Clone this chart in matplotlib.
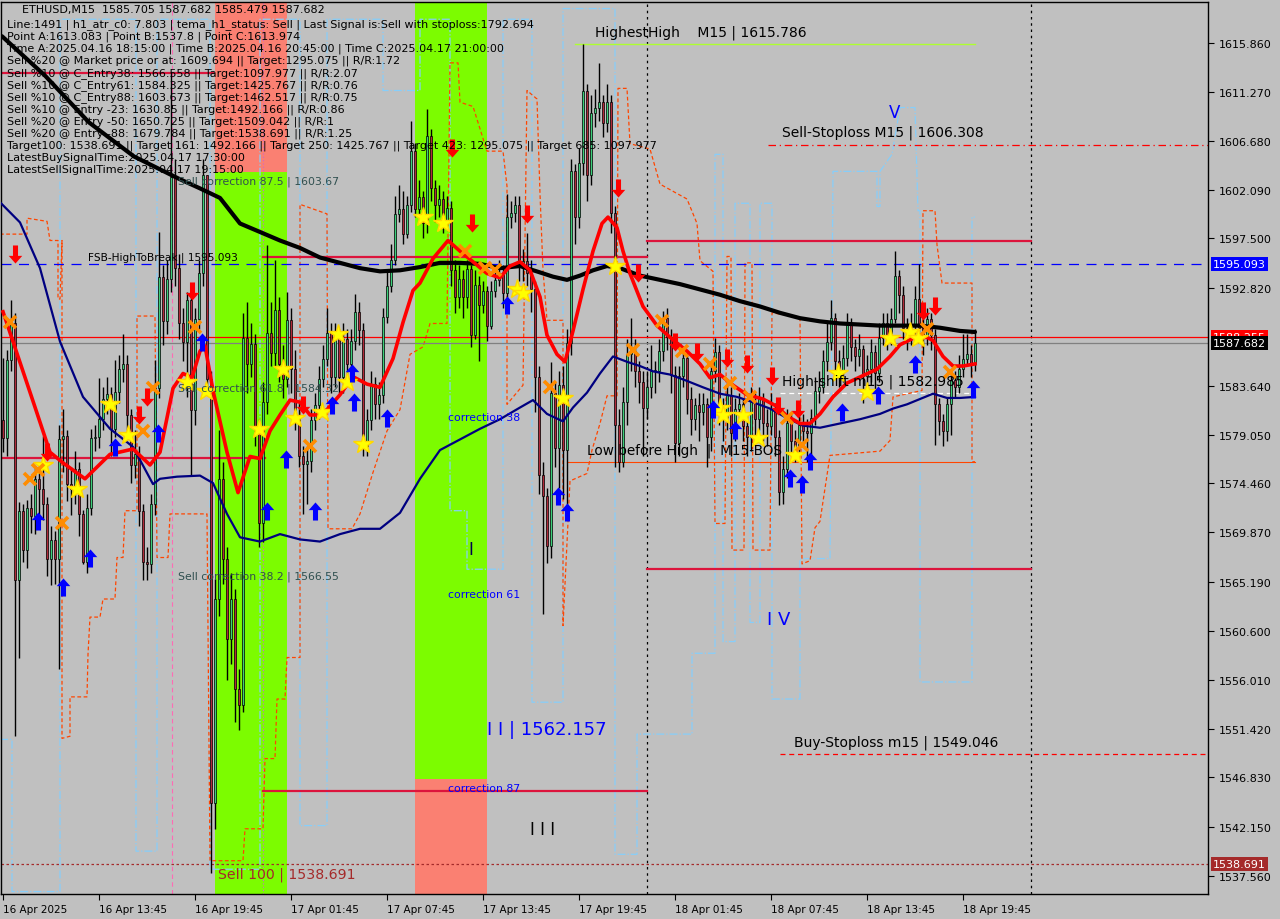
import matplotlib
matplotlib.use('Agg')
import matplotlib.pyplot as plt
from matplotlib.path import Path
from matplotlib.patches import Rectangle
import numpy as np

# ETHUSD M15, one candle per 15 minutes, bar 0 = 16 Apr 07:45
first_open = 1580.4
closes = [
    1578.7, 1586.1, 1589.5, 1565.4, 1571.9, 1568.2, 1572.2, 1571.4, 1574.9, 1573.9,
    1572.5, 1567.4, 1569.1, 1567.4, 1578.6, 1578.9, 1574.4, 1573.9, 1575.8, 1571.6,
    1567.1, 1572.2, 1578.7, 1578.8, 1580.5, 1582.4, 1582.9, 1579.6, 1583.1, 1585.2,
    1585.7, 1580.9, 1576.2, 1577.2, 1571.9, 1567.1, 1566.9, 1572.5, 1583.4, 1593.9,
    1589.7, 1593.7, 1603.3, 1594.7, 1589.5, 1587.8, 1591.7, 1581.4, 1589.9, 1594.2,
    1603.5, 1584.3, 1544.4, 1563.6, 1574.9, 1567.4, 1559.8, 1563.6, 1555.1, 1553.6,
    1588.1, 1585.7, 1587.6, 1579.6, 1570.7, 1582.1, 1588.6, 1586.7, 1590.8, 1585.7,
    1584.3, 1589.8, 1585.2, 1580.9, 1577.0, 1576.3, 1576.6, 1580.4, 1581.8, 1584.3,
    1586.2, 1588.6, 1584.5, 1588.0, 1584.5, 1588.0, 1585.7, 1587.9, 1590.6, 1588.9,
    1578.0, 1580.4, 1583.8, 1581.9, 1582.8, 1590.1, 1593.0, 1595.5, 1599.8, 1600.3,
    1597.9, 1600.6, 1605.7, 1600.3, 1601.4, 1598.9, 1607.1, 1602.2, 1600.6, 1601.2,
    1599.2, 1600.4, 1594.5, 1592.0, 1593.7, 1592.0, 1594.6, 1588.4, 1593.1, 1591.2,
    1592.6, 1589.3, 1592.6, 1593.6, 1594.2, 1592.4, 1599.5, 1599.9, 1600.6, 1594.9,
    1595.4, 1594.2, 1592.7, 1584.5, 1575.3, 1573.3, 1568.6, 1583.0, 1577.8, 1583.7,
    1577.6, 1587.7, 1603.8, 1599.5, 1604.6, 1611.4, 1603.5, 1609.3, 1609.8, 1610.3,
    1608.3, 1610.3, 1599.9, 1580.0, 1576.5, 1582.1, 1586.6, 1586.9, 1585.0, 1584.0,
    1581.6, 1583.5, 1585.0, 1585.0, 1586.9, 1590.0, 1588.2, 1584.7, 1578.3, 1584.6,
    1586.3, 1582.4, 1580.5, 1581.8, 1581.2, 1581.9, 1578.8, 1585.0, 1586.8, 1581.7,
    1580.5, 1582.8, 1579.2, 1581.5, 1581.9, 1579.9, 1578.8, 1582.1, 1580.5, 1582.4,
    1580.1, 1579.9, 1581.5, 1578.8, 1573.7, 1575.8, 1580.1, 1578.5, 1577.9, 1580.0,
    1579.4, 1579.2, 1580.6, 1583.2, 1583.5, 1586.0, 1587.8, 1590.0, 1586.0, 1585.0,
    1586.3, 1589.4, 1587.3, 1586.4, 1587.1, 1584.6, 1585.2, 1586.8, 1584.8, 1588.1,
    1589.5, 1588.4, 1589.9, 1594.0, 1592.2, 1589.1, 1588.4, 1589.4, 1591.8, 1589.1,
    1588.2, 1589.9, 1588.4, 1581.9, 1580.3, 1579.4, 1581.9, 1584.2, 1583.5, 1585.2,
    1586.2, 1586.6, 1585.7, 1587.682,
]
highs = [
    1586.3, 1587.0, 1591.7, 1590.5, 1572.7, 1572.5, 1572.9, 1573.5, 1576.1, 1576.3,
    1578.9, 1573.2, 1570.5, 1570.0, 1580.0, 1581.5, 1579.5, 1576.0, 1577.5, 1576.5,
    1572.0, 1573.5, 1579.6, 1580.0, 1584.4, 1583.5, 1584.5, 1583.5, 1586.1, 1586.5,
    1588.5, 1586.5, 1581.5, 1579.5, 1578.0, 1572.5, 1568.5, 1573.5, 1586.1, 1598.1,
    1595.0, 1595.5, 1613.1, 1605.0, 1596.0, 1591.0, 1592.5, 1592.5, 1591.0, 1595.5,
    1605.0, 1603.2, 1585.0, 1565.5, 1579.5, 1576.5, 1568.5, 1566.0, 1564.5, 1557.0,
    1590.5, 1591.5, 1589.5, 1588.5, 1580.5, 1584.0, 1596.9, 1591.5, 1595.5, 1592.0,
    1587.5, 1592.5, 1591.0, 1587.0, 1582.0, 1578.0, 1578.0, 1581.5, 1583.0, 1585.5,
    1587.5, 1591.0, 1589.5, 1589.5, 1589.0, 1589.5, 1589.0, 1589.0, 1592.3, 1591.5,
    1589.5, 1581.5, 1585.0, 1584.5, 1584.0, 1591.0, 1594.5, 1597.0, 1601.5, 1602.5,
    1602.0, 1601.5, 1608.5, 1606.5, 1603.0, 1602.0, 1609.7, 1607.8, 1603.0, 1602.5,
    1602.0, 1601.5, 1601.0, 1595.5, 1595.0, 1594.5, 1595.5, 1595.0, 1594.5, 1594.0,
    1593.5, 1593.0, 1593.5, 1595.0, 1595.5, 1595.0, 1601.7, 1601.0, 1601.5, 1601.5,
    1596.5, 1598.0, 1595.5, 1593.5, 1585.5, 1576.5, 1574.0, 1585.9, 1584.0, 1585.0,
    1585.5, 1589.0, 1605.0, 1604.5, 1606.0, 1615.8, 1612.0, 1611.0, 1611.5, 1614.0,
    1611.0, 1612.0, 1611.0, 1600.5, 1581.5, 1583.5, 1588.0, 1590.0, 1588.0, 1586.0,
    1585.0, 1585.0, 1587.5, 1586.0, 1588.0, 1590.7, 1591.0, 1589.0, 1585.5, 1585.5,
    1587.0, 1587.0, 1583.5, 1582.5, 1583.0, 1583.0, 1582.5, 1586.0, 1588.1, 1587.5,
    1582.5, 1584.0, 1583.5, 1582.5, 1583.0, 1582.5, 1581.0, 1583.5, 1583.0, 1583.5,
    1583.0, 1581.5, 1583.0, 1582.0, 1579.5, 1577.0, 1581.5, 1581.0, 1579.5, 1581.0,
    1581.0, 1580.5, 1581.5, 1584.5, 1585.0, 1587.0, 1589.5, 1591.7, 1590.5, 1587.0,
    1587.5, 1590.5, 1590.0, 1588.0, 1588.5, 1587.5, 1586.5, 1588.0, 1587.5, 1589.5,
    1590.5, 1590.5, 1591.0, 1596.3, 1594.5, 1593.0, 1590.0, 1590.5, 1593.0, 1595.1,
    1590.0, 1591.0, 1590.5, 1589.0, 1582.5, 1581.0, 1582.5, 1585.0, 1585.0, 1586.5,
    1588.5, 1588.5, 1587.5, 1589.0,
]
lows = [
    1577.4, 1577.0, 1585.0, 1550.7, 1558.1, 1567.1, 1566.5, 1569.8, 1569.7, 1571.0,
    1571.0, 1565.8, 1564.9, 1565.0, 1557.0, 1575.5, 1572.8, 1571.5, 1572.5, 1569.5,
    1566.9, 1566.0, 1571.5, 1577.5, 1577.8, 1579.5, 1581.0, 1577.0, 1578.8, 1582.0,
    1584.0, 1579.5, 1574.5, 1575.0, 1570.5, 1565.4, 1565.4, 1566.0, 1571.5, 1582.5,
    1587.5, 1588.5, 1592.5, 1593.0, 1588.0, 1586.0, 1582.6, 1575.3, 1580.0, 1589.0,
    1593.0, 1583.0, 1537.8, 1542.0, 1562.0, 1565.0, 1556.0, 1557.5, 1552.0, 1551.3,
    1553.0, 1583.0, 1584.5, 1578.0, 1568.5, 1569.0, 1581.0, 1585.5, 1585.5, 1584.0,
    1582.5, 1583.5, 1583.0, 1579.5, 1576.0, 1571.6, 1572.5, 1575.5, 1579.5, 1580.5,
    1583.5, 1585.5, 1583.0, 1583.5, 1583.0, 1583.0, 1584.5, 1584.0, 1587.0, 1587.5,
    1577.0, 1577.0, 1579.5, 1580.5, 1580.5, 1582.0, 1589.5, 1592.5, 1595.0, 1599.0,
    1597.0, 1597.5, 1600.0, 1599.5, 1599.5, 1597.5, 1598.0, 1601.0, 1599.0, 1599.5,
    1598.0, 1598.5, 1593.0, 1590.5, 1591.0, 1590.0, 1591.0, 1587.3, 1588.0, 1586.0,
    1590.5, 1587.9, 1589.0, 1592.0, 1593.0, 1591.0, 1592.0, 1598.5, 1599.0, 1593.5,
    1593.5, 1593.0, 1590.6, 1581.2, 1573.5, 1562.2, 1567.0, 1567.5, 1576.0, 1574.0,
    1573.0, 1571.1, 1586.5, 1597.0, 1598.5, 1603.5, 1601.0, 1602.5, 1608.0, 1608.5,
    1607.0, 1607.5, 1598.0, 1576.0, 1575.5, 1576.0, 1580.0, 1585.0, 1583.5, 1582.0,
    1577.0, 1580.5, 1582.5, 1583.0, 1584.0, 1586.0, 1587.0, 1583.0, 1576.5, 1577.0,
    1583.5, 1581.0, 1579.0, 1579.5, 1578.5, 1580.0, 1576.0, 1577.5, 1584.0, 1580.0,
    1578.5, 1579.5, 1577.0, 1578.5, 1580.5, 1578.5, 1577.0, 1577.5, 1579.0, 1579.5,
    1578.5, 1578.0, 1579.0, 1577.0, 1572.4, 1572.5, 1575.0, 1577.0, 1576.5, 1577.0,
    1578.0, 1576.5, 1575.8, 1580.0, 1582.0, 1583.0, 1585.0, 1587.0, 1585.0, 1583.5,
    1584.0, 1585.5, 1586.0, 1585.0, 1585.5, 1582.0, 1583.5, 1584.0, 1583.0, 1584.0,
    1587.5, 1587.0, 1587.5, 1589.5, 1590.5, 1588.0, 1587.0, 1587.5, 1588.5, 1588.0,
    1586.5, 1587.5, 1587.0, 1578.1, 1579.0, 1578.0, 1578.5, 1579.0, 1582.5, 1583.0,
    1584.5, 1585.5, 1584.5, 1585.0,
]

time_labels = ['16 Apr 2025', '16 Apr 13:45', '16 Apr 19:45', '17 Apr 01:45', '17 Apr 07:45',
               '17 Apr 13:45', '17 Apr 19:45', '18 Apr 01:45', '18 Apr 07:45', '18 Apr 13:45',
               '18 Apr 19:45']
time_label_bars = [0, 24, 48, 72, 96, 120, 144, 168, 192, 216, 240]
price_ticks = [1615.860, 1611.270, 1606.680, 1602.090, 1597.500, 1592.820, 1583.640, 1579.050,
               1574.460, 1569.870, 1565.190, 1560.600, 1556.010, 1551.420, 1546.830, 1542.150,
               1537.560]

# moving averages (bar, price)
slow_t = [-0.25, 10.5, 21.5, 32.75, 44, 49.25, 54.25, 59.25, 64.25, 69.25, 74.25, 79.25, 84.25,
          89.25, 94.25, 99.25, 104.25, 109.25, 114.25, 119.25, 124.25, 129.25, 134.25, 137.5, 141,
          144.25, 147.5, 151, 154.25, 159.25, 164.25, 169.25, 174.25, 179.25, 184.25, 189.25,
          194.25, 199.25, 204.25, 209.25, 214.25, 219.25, 224.25, 229.25, 234.25, 239.25, 243]
slow_p = [1616.5, 1612.8, 1608.4, 1605.2, 1603.1, 1602.2, 1601.3, 1598.9, 1598.1, 1597.3, 1596.6,
          1595.7, 1595.2, 1594.7, 1594.4, 1594.5, 1594.8, 1595.2, 1595.2, 1595.1, 1594.7, 1594.9,
          1594.3, 1593.9, 1593.6, 1594.0, 1594.5, 1594.9, 1594.7, 1594.0, 1593.6, 1593.2, 1592.7,
          1592.2, 1591.6, 1591.1, 1590.5, 1590.0, 1589.7, 1589.5, 1589.4, 1589.3, 1589.3, 1589.3,
          1589.1, 1588.8, 1588.7]
mid_t = [-0.75, 4.25, 9.25, 14.25, 20, 26.75, 32.5, 37.5, 39.25, 43.5, 49.25, 52.5, 56, 59.25,
         64.25, 69.25, 74.25, 79.25, 84.25, 89.25, 94.25, 99.25, 104.25, 109.25, 114.25, 119.25,
         124.25, 129.25, 132.5, 136, 140, 142.5, 146, 149.25, 152.5, 156, 159.25, 162.5, 166.75,
         171, 175, 179.25, 183.5, 187.5, 191.75, 196, 200, 204.25, 209.25, 214.25, 219.25, 222.5,
         226, 229.25, 232.5, 236, 239.25, 243]
mid_p = [1600.9, 1599.0, 1594.7, 1587.8, 1582.6, 1579.6, 1577.9, 1574.4, 1574.9, 1575.1, 1575.2,
         1574.5, 1571.6, 1569.4, 1569.0, 1569.7, 1569.2, 1569.0, 1569.7, 1570.2, 1570.2, 1571.7,
         1574.9, 1577.6, 1578.6, 1579.6, 1580.5, 1581.6, 1582.3, 1581.0, 1580.3, 1581.6, 1583.0,
         1584.8, 1586.4, 1585.9, 1585.5, 1585.0, 1584.7, 1584.1, 1583.5, 1582.9, 1582.6, 1582.1,
         1581.5, 1580.6, 1579.9, 1579.7, 1580.1, 1580.5, 1581.0, 1581.5, 1581.9, 1582.4, 1582.9,
         1582.5, 1582.5, 1582.6]
fast_t = [0, 7.5, 11.75, 15, 20.5, 26.75, 32.5, 36.75, 39.25, 42.5, 45, 47.25, 49.25, 50.5, 52.5,
          56, 58.75, 61.75, 64.25, 66.75, 69.25, 71.75, 74.25, 76.75, 78.5, 81, 84.25, 87.5, 91,
          94.25, 97.5, 100, 102.5, 104.25, 107.5, 111.25, 114.25, 117.5, 121, 124.25, 126.75,
          129.25, 131.75, 134.25, 136, 138.5, 140.5, 142.5, 145, 147.5, 149.75, 151.25, 153.5, 155,
          156.75, 160, 163.5, 166.75, 171, 174.25, 176.75, 179.25, 182.5, 186, 190, 193.5, 196,
          199.25, 201.75, 204.25, 207.5, 211, 215, 218.5, 221.75, 224.25, 227.5, 231, 232.5, 235,
          237.5, 240, 243]
fast_p = [1590.6, 1582.2, 1577.4, 1576.4, 1574.9, 1577.2, 1577.7, 1576.2, 1577.4, 1583.4, 1584.8,
          1584.4, 1586.9, 1587.4, 1583.2, 1577.4, 1573.6, 1577.0, 1576.8, 1579.4, 1580.9, 1582.3,
          1582.1, 1580.9, 1580.9, 1581.4, 1582.8, 1584.5, 1583.8, 1583.5, 1586.2, 1589.6, 1592.6,
          1593.3, 1595.6, 1597.3, 1596.3, 1595.3, 1594.2, 1593.8, 1594.9, 1595.3, 1594.5, 1592.0,
          1588.4, 1586.6, 1585.9, 1588.8, 1592.7, 1596.3, 1598.9, 1599.5, 1598.5, 1596.3, 1594.2,
          1591.1, 1589.3, 1588.2, 1586.9, 1585.7, 1584.4, 1584.7, 1583.7, 1582.8, 1582.4, 1581.7,
          1580.8, 1580.1, 1580.1, 1581.0, 1582.6, 1583.9, 1584.6, 1585.2, 1586.4, 1587.5, 1588.1,
          1588.2, 1587.9, 1586.4, 1585.5, 1585.5, 1585.7]

# orange trailing step line
orange_t = [-0.75, 6, 6, 11, 11.75, 13.75, 13.75, 14.25, 14.75, 14.75, 16.75, 16.75, 21, 21.25,
            21.75, 24.25, 25, 28, 28.5, 30, 30.5, 33.5, 33.5, 38, 38.5, 41.25, 41.75, 51, 51.75, 60,
            60.5, 65, 65.5, 68, 68.5, 70.5, 71, 74.25, 74.25, 81, 81.25, 87.25, 89.25, 92.5, 96,
            99.25, 101.75, 105, 106.75, 111, 111.75, 113.75, 114.25, 117.5, 119.25, 121, 125, 126,
            126, 130, 131, 133.5, 134.25, 135, 136, 140, 140, 141.75, 146, 147.25, 149.25, 151,
            153.5, 153.75, 156, 156.75, 161.75, 164.25, 171, 173.5, 174.25, 177.5, 178, 180.5, 181,
            182, 182.25, 185.25, 185.5, 187.25, 187.5, 191.75, 192.25, 199.25, 199.75, 201.75, 203,
            204.25, 206.75, 219.25, 221.75, 222.5, 229.75, 230, 233, 233.5, 234.75, 242.25, 242.25,
            243]
orange_p = [1597.9, 1597.9, 1599.4, 1599.1, 1597.3, 1597.3, 1591.8, 1591.8, 1597.3, 1550.5,
            1550.7, 1554.4, 1554.4, 1558.4, 1561.9, 1561.9, 1563.6, 1563.6, 1567.5, 1567.5, 1571.9,
            1571.9, 1590.2, 1590.2, 1567.5, 1567.5, 1571.6, 1571.6, 1539.0, 1539.0, 1542.0, 1542.0,
            1548.6, 1548.6, 1554.2, 1554.2, 1558.1, 1558.1, 1600.7, 1599.8, 1570.2, 1570.2, 1571.6,
            1575.5, 1579.4, 1581.4, 1586.6, 1587.3, 1589.5, 1589.5, 1614.0, 1614.0, 1610.3, 1609.9,
            1607.8, 1605.7, 1605.7, 1602.4, 1581.9, 1583.7, 1611.4, 1610.6, 1601.7, 1594.5, 1589.8,
            1589.8, 1561.1, 1574.7, 1575.4, 1577.6, 1580.1, 1582.7, 1582.7, 1611.6, 1611.6, 1606.4,
            1605.9, 1602.6, 1601.2, 1598.9, 1595.4, 1594.4, 1570.7, 1570.7, 1595.8, 1595.8, 1568.2,
            1568.2, 1595.2, 1595.2, 1568.2, 1568.2, 1590.5, 1590.1, 1566.9, 1567.2, 1570.3, 1570.9,
            1577.1, 1577.5, 1578.5, 1582.6, 1583.2, 1600.1, 1600.1, 1596.9, 1593.3, 1593.3, 1576.5,
            1576.5]

# light blue step line
sky_t = [-0.75, 2.25, 2.25, 14.25, 14.25, 33.25, 33.25, 38.5, 38.5, 51.75, 51.75, 64.25, 64.25,
         74.25, 74.25, 81, 81, 95, 95, 104.25, 104.25, 111.75, 111.75, 116, 116, 125, 125, 132.25,
         132.25, 140, 140, 153, 153, 158.5, 158.5, 172.25, 172.25, 178, 178, 180, 180, 183, 183,
         186.75, 186.75, 189.25, 189.25, 192.25, 192.25, 199.25, 199.25, 206.75, 207.5, 218.5,
         218.5, 219.25, 219.25, 222.25, 224.25, 228, 228.75, 229.25, 229.25, 242.25, 242.25, 243]
sky_p = [1550.4, 1550.4, 1536.1, 1536.1, 1618.1, 1618.1, 1539.9, 1539.9, 1618.1, 1618.1, 1538.2,
         1538.2, 1618.1, 1618.1, 1542.3, 1542.3, 1618.1, 1618.1, 1611.4, 1611.4, 1618.1, 1618.1,
         1571.9, 1571.9, 1566.4, 1566.4, 1618.1, 1618.1, 1553.9, 1553.9, 1619.1, 1619.1, 1539.6,
         1539.6, 1550.9, 1550.9, 1558.5, 1558.5, 1605.4, 1605.4, 1559.6, 1559.6, 1600.8, 1600.8,
         1561.4, 1561.4, 1600.8, 1600.8, 1554.2, 1554.2, 1567.4, 1567.4, 1603.8, 1603.8, 1600.5,
         1600.5, 1603.8, 1605.4, 1609.8, 1609.8, 1600.1, 1600.1, 1555.8, 1555.8, 1599.5, 1599.5]

# signal markers
star_t = [10, 18.5, 26.75, 31.25, 46, 50.75, 64, 70, 73, 79.75, 83.75, 86, 90, 105, 110, 128.5,
          130, 140, 153, 179.25, 180, 185, 188.75, 198, 208.75, 216, 221.75, 226.75, 228.75]
star_p = [1576.2, 1573.9, 1581.9, 1579.0, 1584.0, 1583.2, 1579.6, 1585.2, 1580.6, 1581.2, 1588.5,
          1584.0, 1578.2, 1599.5, 1598.9, 1592.7, 1592.4, 1582.5, 1594.9, 1581.6, 1580.9, 1580.9,
          1578.7, 1577.1, 1584.8, 1583.1, 1588.1, 1588.7, 1588.1]
cross_t = [1.75, 6.75, 8.75, 14.75, 35, 37.5, 48, 76.75, 115.5, 120.5, 123, 136.75, 157.5, 164.75,
           169.75, 176.75, 181.75, 186.75, 196, 199.75, 231, 236.75]
cross_p = [1589.6, 1574.9, 1575.7, 1570.7, 1579.4, 1583.4, 1589.2, 1578.0, 1596.3, 1594.7, 1594.5,
           1583.5, 1587.0, 1589.7, 1586.9, 1585.7, 1583.9, 1582.6, 1580.6, 1578.1, 1589.0, 1584.9]
sell_t = [3, 11, 34, 36, 47.25, 75, 112.25, 117.25, 131, 153.75, 158.75, 168, 173.5, 181, 186,
          192.25, 193.75, 198.75, 230, 233]
sell_p = [1596.0, 1577.4, 1580.9, 1582.6, 1592.6, 1581.8, 1606.0, 1598.9, 1599.8, 1602.2, 1594.2,
          1587.8, 1586.8, 1586.3, 1585.7, 1584.6, 1581.7, 1581.5, 1590.7, 1591.1]
buy_t = [8.75, 15, 21.75, 28, 38.75, 49.75, 66, 70.75, 78, 82.25, 87.25, 87.75, 96, 126, 138.75,
         141, 177.5, 183, 196.75, 199.75, 201.75, 209.75, 218.75, 228, 242.5]
buy_p = [1570.9, 1564.7, 1567.5, 1577.9, 1579.2, 1587.8, 1571.9, 1576.8, 1571.9, 1581.8, 1584.8,
         1582.1, 1580.6, 1591.2, 1573.3, 1571.8, 1581.5, 1579.5, 1575.0, 1574.4, 1576.6, 1581.2,
         1582.8, 1585.7, 1583.3]

info_lines = [
    'Line:1491 | h1_atr_c0: 7.803 | tema_h1_status: Sell | Last Signal is:Sell with stoploss:1792.694',
    'Point A:1613.083 | Point B:1537.8 | Point C:1613.974',
    'Time A:2025.04.16 18:15:00 | Time B:2025.04.16 20:45:00 | Time C:2025.04.17 21:00:00',
    'Sell %20 @ Market price or at: 1609.694 || Target:1295.075 || R/R:1.72',
    'Sell %10 @ C_Entry38: 1566.558 || Target:1097.977 || R/R:2.07',
    'Sell %10 @ C_Entry61: 1584.325 || Target:1425.767 || R/R:0.76',
    'Sell %10 @ C_Entry88: 1603.673 || Target:1462.517 || R/R:0.75',
    'Sell %10 @ Entry -23: 1630.85 || Target:1492.166 || R/R:0.86',
    'Sell %20 @ Entry -50: 1650.725 || Target:1509.042 || R/R:1',
    'Sell %20 @ Entry -88: 1679.784 || Target:1538.691 || R/R:1.25',
    'Target100: 1538.691 || Target 161: 1492.166 || Target 250: 1425.767 || Target 423: 1295.075 || Target 685: 1097.977',
    'LatestBuySignalTime:2025.04.17 17:30:00',
    'LatestSellSignalTime:2025.04.17 19:15:00',
]

BG = '#c0c0c0'
TXT = 'DejaVu Sans'

fig = plt.figure(figsize=(12.8, 9.2), dpi=100)
fig.patch.set_facecolor(BG)
ax = fig.add_axes([1 / 1280, 1 - 895 / 920, 1207 / 1280, 892 / 920])
ax.set_facecolor(BG)
ax.set_xlim(-0.5, 301.25)
ax.set_ylim(1535.87, 1619.72)

# zones
ax.add_patch(Rectangle((53, 1603.74), 18, 30, color='#fa8072', lw=0, zorder=0))
ax.add_patch(Rectangle((53, 1530), 18, 73.74, color='#7cfc00', lw=0, zorder=0))
ax.add_patch(Rectangle((103, 1546.7), 18, 80, color='#7cfc00', lw=0, zorder=0))
ax.add_patch(Rectangle((103, 1530), 18, 16.7, color='#fa8072', lw=0, zorder=0))

# vertical markers
ax.axvline(161, color='black', ls=(0, (2, 3)), lw=0.9, zorder=1)
ax.axvline(257, color='black', ls=(0, (2, 3)), lw=0.9, zorder=1)
ax.axvline(42.25, color='#ff69b4', ls=(0, (4, 3)), lw=0.8, zorder=1)
ax.axvline(65, color='#cc66cc', ls=(0, (1, 2)), lw=0.8, zorder=1)

# level lines
ax.plot(sky_t, sky_p, color='#87cefa', lw=0.9, ls='-.', zorder=1)
ax.plot(orange_t, orange_p, color='#ff4500', lw=0.9, ls=(0, (3, 2)), zorder=1)
ax.axhline(1595.093, color='#0000ff', lw=0.9, ls=(0, (8, 6)), zorder=1)
ax.axhline(1588.255, color='#ff0000', lw=0.9, zorder=1)
ax.axhline(1587.682, color='#808080', lw=0.9, zorder=1)
ax.axhline(1538.691, color='#a52a2a', lw=0.9, ls=(0, (2, 2)), zorder=1)
ax.plot([-0.5, 52.5], [1613.08, 1613.08], color='#dc143c', lw=1.6, zorder=1)
ax.plot([-0.5, 65.5], [1576.9, 1576.9], color='#dc143c', lw=1.6, zorder=1)
ax.plot([65, 161], [1595.75, 1595.75], color='#dc143c', lw=1.6, zorder=1)
ax.plot([65, 161], [1545.55, 1545.55], color='#dc143c', lw=1.6, zorder=1)
ax.plot([161, 257], [1597.25, 1597.25], color='#dc143c', lw=1.6, zorder=1)
ax.plot([161, 257], [1566.4, 1566.4], color='#dc143c', lw=1.6, zorder=1)
ax.plot([143, 243], [1615.786, 1615.786], color='#adff2f', lw=1, zorder=1)
ax.plot([191.25, 301.25], [1606.308, 1606.308], color='#ff0000', lw=0.9, ls=(0, (6, 3, 1, 3)), zorder=1)
ax.plot([194.25, 301.25], [1549.046, 1549.046], color='#ff0000', lw=0.9, ls=(0, (4, 3)), zorder=1)
ax.plot([194.25, 243], [1582.985, 1582.985], color='white', lw=0.9, ls=(0, (4, 3)), zorder=1)
ax.plot([141, 243], [1576.5, 1576.5], color='#ff4500', lw=0.8, zorder=1)

# candles
opens = [first_open] + closes[:-1]
idx = np.arange(len(closes))
o = np.array(opens)
c = np.array(closes)
hi = np.maximum(np.array(highs), np.maximum(o, c))
lo = np.minimum(np.array(lows), np.minimum(o, c))
ax.vlines(idx, lo, hi, color='black', lw=1, zorder=3)
bottom = np.minimum(o, c)
height = np.maximum(np.abs(c - o), 0.12)
colors = np.where(c >= o, '#3ccf7a', '#b02a3a')
ax.bar(idx, height, bottom=bottom, width=0.72, color=colors, edgecolor='black', lw=0.5, zorder=4)

# moving averages
ax.plot(slow_t, slow_p, color='black', lw=3, zorder=5, solid_capstyle='round')
ax.plot(mid_t, mid_p, color='#000080', lw=1.6, zorder=5)
ax.plot(fast_t, fast_p, color='#ff0000', lw=2.6, zorder=5)

# markers
up_arrow = Path([(0, 1), (0.75, 0.15), (0.28, 0.15), (0.28, -1), (-0.28, -1), (-0.28, 0.15),
                 (-0.75, 0.15), (0, 1)],
                [Path.MOVETO] + [Path.LINETO] * 6 + [Path.CLOSEPOLY])
down_arrow = Path([(0, -1), (0.75, -0.15), (0.28, -0.15), (0.28, 1), (-0.28, 1), (-0.28, -0.15),
                   (-0.75, -0.15), (0, -1)],
                  [Path.MOVETO] + [Path.LINETO] * 6 + [Path.CLOSEPOLY])
ax.plot(star_t, star_p, ls='none', marker='*', ms=15, color='#ffff00', mec='#ffd700', zorder=6)
ax.plot(cross_t, cross_p, ls='none', marker='x', ms=8, mew=2.6, color='#ff8c00', zorder=6)
ax.plot(sell_t, sell_p, ls='none', marker=down_arrow, ms=13, color='#ff0000', mew=0, zorder=6)
ax.plot(buy_t, buy_p, ls='none', marker=up_arrow, ms=13, color='#0000ff', mew=0, zorder=6)

# chart labels
def label(x, y, s, color='black', size=8, **kw):
    ax.text(x, y, s, color=color, fontsize=size, family=TXT, va='center', ha='left', zorder=7, **kw)

label(148, 1616.9, 'HighestHigh    M15 | 1615.786', size=10)
label(221.5, 1609.4, 'V', color='#0000ff', size=12)
label(194.75, 1607.5, 'Sell-Stoploss M15 | 1606.308', size=10)
label(21.25, 1595.75, 'FSB-HighToBreak | 1595.093', size=7.6)
label(43.75, 1602.9, 'Sell correction 87.5 | 1603.67', color='#2f4f4f', size=7.8)
label(43.75, 1583.5, 'Sell correction 61.8 | 1584.32', color='#2f4f4f', size=7.8)
label(43.75, 1565.8, 'Sell correction 38.2 | 1566.55', color='#2f4f4f', size=7.8)
label(53.75, 1537.8, 'Sell 100 | 1538.691', color='#a52a2a', size=10.2)
label(111.25, 1580.7, 'correction 38', color='#0000ff', size=7.8)
label(111.25, 1564.1, 'correction 61', color='#0000ff', size=7.8)
label(111.25, 1545.8, 'correction 87', color='#0000ff', size=7.8)
label(116.25, 1568.3, 'I', color='#000050', size=12)
label(121, 1551.4, 'I I | 1562.157', color='#0000ff', size=13)
label(131.75, 1542.0, 'I I I', color='black', size=12)
label(191, 1561.7, 'I V', color='#0000ff', size=13)
label(146, 1577.6, 'Low before High  |  M15-BOS', size=9.8)
label(194.75, 1584.1, 'High-shift m15 | 1582.985', size=10)
label(197.75, 1550.2, 'Buy-Stoploss m15 | 1549.046', size=10)

fig.text(22 / 1280, 1 - 10 / 920, 'ETHUSD,M15  1585.705 1587.682 1585.479 1587.682',
         fontsize=8, family=TXT, va='center', ha='left')
for k, line in enumerate(info_lines):
    fig.text(7 / 1280, 1 - (25 + 12.08 * k) / 920, line, fontsize=8, family=TXT,
             va='center', ha='left')

# axes
for sp in ax.spines.values():
    sp.set_color('black')
    sp.set_linewidth(1)
ax.yaxis.tick_right()
ax.set_yticks(price_ticks)
ax.set_yticklabels(['%.3f' % p for p in price_ticks])
ax.tick_params(axis='y', direction='out', length=4, pad=4, labelsize=8, colors='black')
ax.set_xticks(time_label_bars)
ax.set_xticklabels(time_labels)
for t in ax.get_xticklabels():
    t.set_horizontalalignment('left')
ax.tick_params(axis='x', direction='out', length=4, pad=3, labelsize=7.5)

ytr = ax.get_yaxis_transform()
for price, txt, col in [(1595.093, '1595.093', '#0000ff'), (1588.255, '1588.255', '#ff0000'),
                        (1587.682, '1587.682', '#000000'), (1538.691, '1538.691', '#a52a2a')]:
    ax.text(1.004, price, txt, transform=ytr, va='center', ha='left', fontsize=8,
            color='white', zorder=8, clip_on=False,
            bbox=dict(boxstyle='square,pad=0.2', fc=col, ec='none'))

fig.savefig('out.png', dpi=100, facecolor=BG)
